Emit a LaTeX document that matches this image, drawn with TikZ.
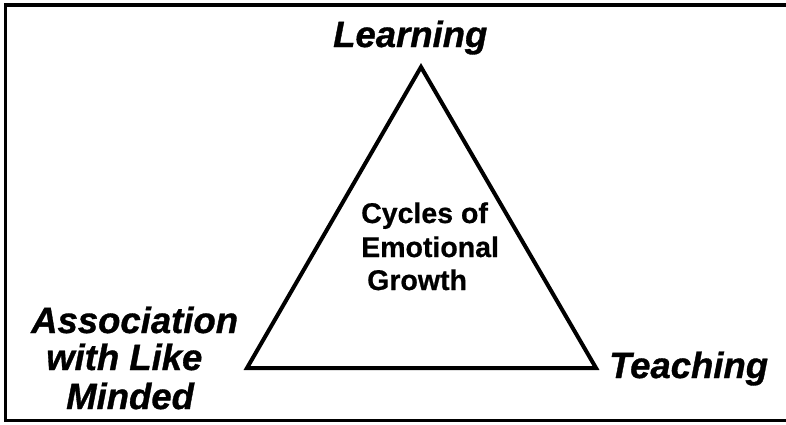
\documentclass[tikz,border=0pt]{standalone}
\usepackage{fontspec}
\setmainfont{Liberation Sans}
\newfontface\heavyit[FakeBold=0.9]{Liberation Sans Bold Italic}
\newfontface\heavyup[FakeBold=0.7]{Liberation Sans Bold}
\begin{document}
\begin{tikzpicture}[x=1pt,y=-1pt,
  lbl/.style={font=\fontsize{36.5}{38}\selectfont\heavyit, inner sep=0pt, anchor=base west},
  ctr/.style={font=\fontsize{28.5}{33}\selectfont\heavyup, inner sep=0pt, anchor=base west},
  edge/.style={line width=4pt, line join=miter}]
\useasboundingbox (0,0) rectangle (786,424);
\draw[line width=3.5pt] (5.5,5) rectangle (830,420.5);
\coordinate (top) at (421,67);
\coordinate (left) at (247,368);
\coordinate (right) at (596,368);
\draw[edge] (top) -- (left) -- (right) -- cycle;
\node[lbl] (learn) at (333,47) {Learning};
\node[lbl] (teach) at (609,378) {Teaching};
\node[lbl] (assoc1) at (31,333) {Association};
\node[lbl] (assoc2) at (46,370) {with Like};
\node[lbl] (assoc3) at (66,409) {Minded};
\node[ctr] (cyc1) at (361,223) {Cycles of};
\node[ctr] (cyc2) at (361,257) {Emotional};
\node[ctr] (cyc3) at (367,290) {Growth};
\end{tikzpicture}
\end{document}
